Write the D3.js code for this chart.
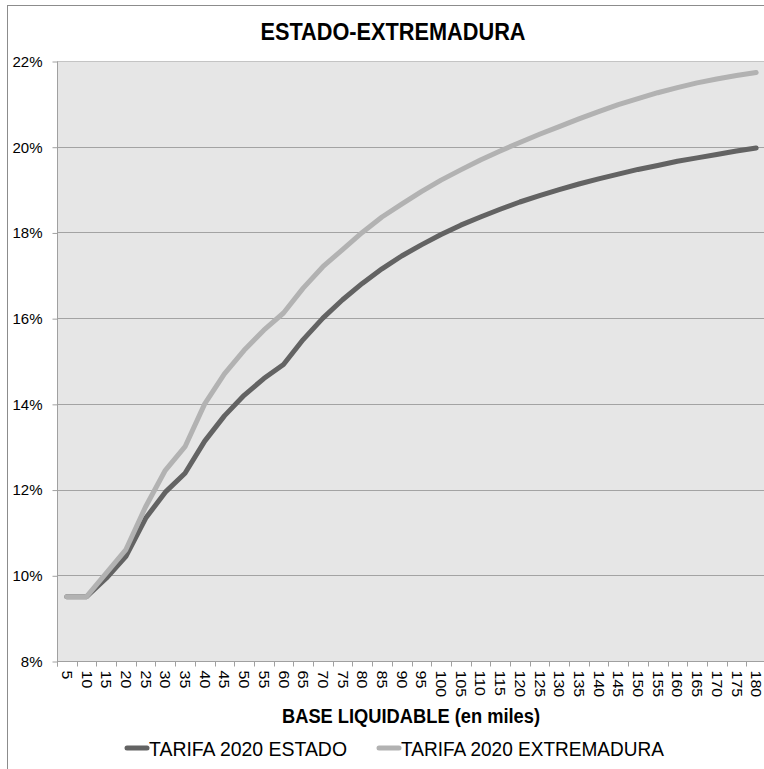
<!DOCTYPE html>
<html>
<head>
<meta charset="utf-8">
<script src="https://cdn.jsdelivr.net/npm/d3@7/dist/d3.min.js"></script>
<style>
  html, body { margin: 0; padding: 0; background: #fff; }
  svg { display: block; }
  text { font-family: "Liberation Sans", Arial, sans-serif; fill: #000; }
</style>
</head>
<body>
<svg id="chart" width="764" height="769"></svg>
<script>
const categories = [5,10,15,20,25,30,35,40,45,50,55,60,65,70,75,80,85,90,95,100,105,110,115,120,125,130,135,140,145,150,155,160,165,170,175,180];
const estado = [9.50,9.50,9.93,10.44,11.33,11.94,12.38,13.13,13.72,14.20,14.59,14.92,15.50,16.00,16.43,16.81,17.15,17.45,17.71,17.95,18.17,18.36,18.54,18.71,18.86,19.00,19.13,19.25,19.36,19.47,19.56,19.66,19.74,19.82,19.90,19.97];
const extremadura = [9.50,9.50,10.05,10.60,11.60,12.45,13.00,14.00,14.70,15.25,15.72,16.12,16.70,17.20,17.60,18.00,18.36,18.66,18.95,19.22,19.46,19.69,19.90,20.10,20.29,20.47,20.65,20.82,20.98,21.12,21.26,21.38,21.49,21.58,21.66,21.73];
const yTicks = [8,10,12,14,16,18,20,22];
const seriesNames = ["TARIFA 2020 ESTADO", "TARIFA 2020 EXTREMADURA"];
const seriesColors = ["#636363", "#b2b2b2"];
const title = "ESTADO-EXTREMADURA";
const xTitle = "BASE LIQUIDABLE (en miles)";

const svg = d3.select("#chart");
const plot = {left: 57, right: 766, top: 61, bottom: 661};

// outer frame
svg.append("rect").attr("x", 7.5).attr("y", 5.5).attr("width", 800).attr("height", 800)
  .attr("fill", "none").attr("stroke", "#8c8c8c").attr("stroke-width", 1);

const x = d3.scaleBand().domain(categories).range([plot.left, plot.right]).paddingInner(0).paddingOuter(0);
const y = d3.scaleLinear().domain([8, 22]).range([plot.bottom, plot.top]);

// plot background
svg.append("rect").attr("x", plot.left).attr("y", plot.top)
  .attr("width", plot.right - plot.left).attr("height", plot.bottom - plot.top)
  .attr("fill", "#e6e6e6");

// gridlines
svg.append("g").selectAll("line").data(yTicks.slice(1)).join("line")
  .attr("x1", plot.left).attr("x2", plot.right)
  .attr("y1", d => Math.round(y(d)) + 0.5).attr("y2", d => Math.round(y(d)) + 0.5)
  .attr("stroke", d => d === 22 ? "#c4c4c4" : "#a3a3a3").attr("stroke-width", 1);

// y axis
const yAxis = d3.axisLeft(y).tickValues(yTicks).tickFormat(d => d + "%").tickSize(5).tickPadding(10);
const gy = svg.append("g").attr("transform", `translate(${plot.left + 0.5},0.5)`).call(yAxis);
gy.select(".domain").attr("stroke", "#a0a0a0").attr("d", `M0,${plot.top}V${plot.bottom + 5}`);
gy.selectAll(".tick line").attr("stroke", "#a0a0a0");
gy.selectAll(".tick text").attr("font-size", 15).attr("fill", "#000")
  .style("font-family", '"Liberation Sans", Arial, sans-serif');

// x axis
const xAxis = d3.axisBottom(x).tickSize(0).tickFormat(d => d);
const gx = svg.append("g").attr("transform", `translate(0,${plot.bottom + 0.5})`).call(xAxis);
gx.select(".domain").attr("stroke", "#a0a0a0").attr("d", `M${plot.left},0H${plot.right}`);
const bounds = categories.map(c => x(c)).concat([plot.right]);
gx.append("g").selectAll("line").data(bounds).join("line")
  .attr("x1", d => Math.round(d) + 0.5).attr("x2", d => Math.round(d) + 0.5)
  .attr("y1", 0).attr("y2", 5).attr("stroke", "#a0a0a0");
gx.selectAll(".tick text")
  .attr("transform", "rotate(90) scale(1,0.88)")
  .attr("x", 9).attr("y", 0).attr("dy", "0.35em")
  .attr("text-anchor", "start")
  .attr("font-size", 16).attr("fill", "#000")
  .style("font-family", '"Liberation Sans", Arial, sans-serif');

// lines
const line = d3.line().x((d, i) => x(categories[i]) + x.bandwidth() / 2).y(d => y(d));
[estado, extremadura].forEach((s, k) => {
  svg.append("path").datum(s).attr("d", line)
    .attr("fill", "none").attr("stroke", seriesColors[k]).attr("stroke-width", 5)
    .attr("stroke-linecap", "round").attr("stroke-linejoin", "round");
});

// title
svg.append("text").attr("x", 393).attr("y", 40).attr("text-anchor", "middle")
  .attr("font-size", 24).attr("font-weight", "bold")
  .attr("textLength", 265).attr("lengthAdjust", "spacingAndGlyphs").text(title);

// x title
svg.append("text").attr("x", 411).attr("y", 723).attr("text-anchor", "middle")
  .attr("font-size", 20).attr("font-weight", "bold")
  .attr("textLength", 258).attr("lengthAdjust", "spacingAndGlyphs").text(xTitle);

// legend
const legendItems = [{x: 125, w: 22, tw: 198}, {x: 377, w: 22, tw: 263}];
legendItems.forEach((it, k) => {
  svg.append("line").attr("x1", it.x + 2).attr("x2", it.x + it.w).attr("y1", 748).attr("y2", 748)
    .attr("stroke", seriesColors[k]).attr("stroke-width", 5).attr("stroke-linecap", "round");
  svg.append("text").attr("x", it.x + it.w + 2).attr("y", 756).attr("font-size", 21)
    .attr("textLength", it.tw).attr("lengthAdjust", "spacingAndGlyphs").text(seriesNames[k]);
});
</script>
</body>
</html>
